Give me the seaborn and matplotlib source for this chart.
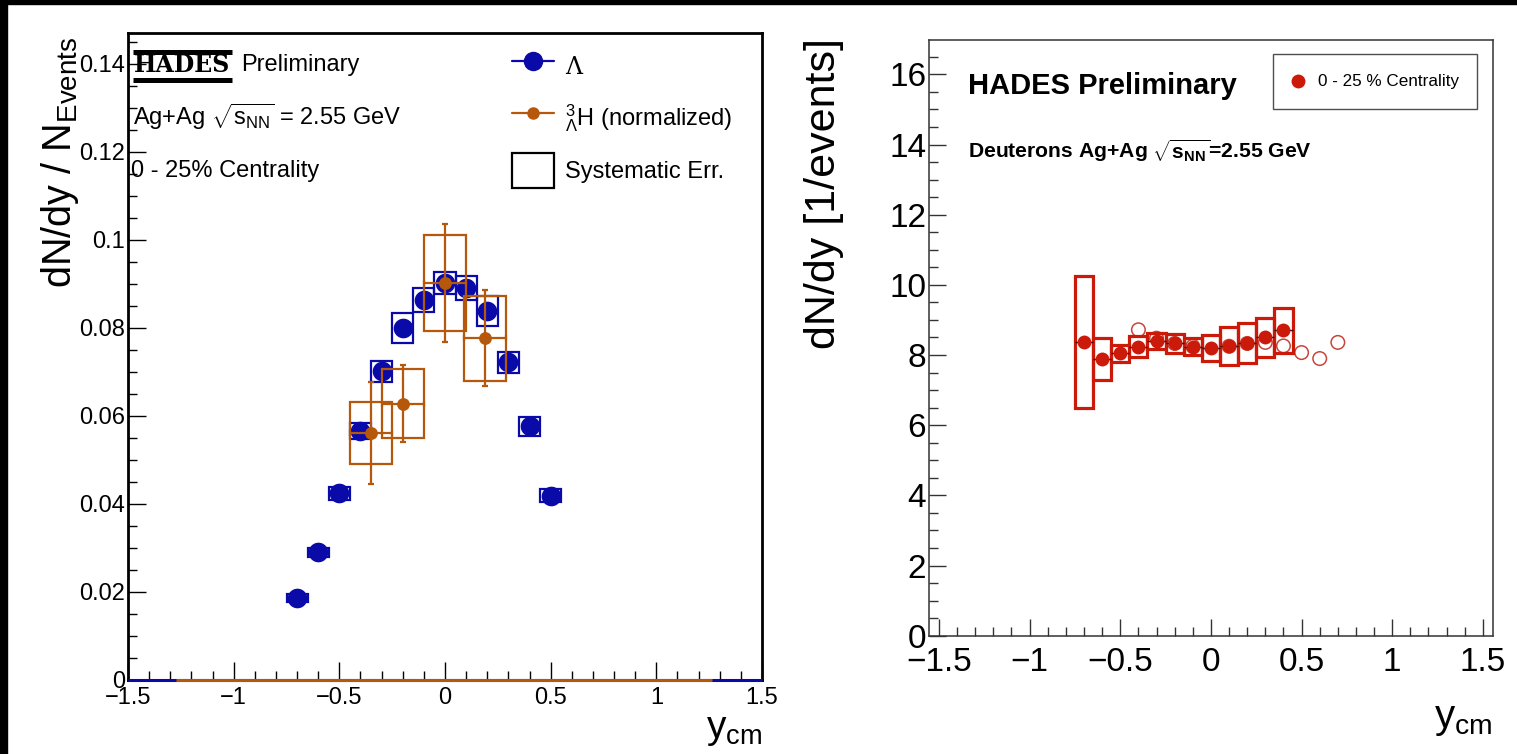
import numpy as np
import pandas as pd
import matplotlib
matplotlib.use("Agg")
import matplotlib.pyplot as plt
from matplotlib.patches import Rectangle, Patch
from matplotlib.lines import Line2D
import seaborn as sns

# ---------------- data: left panel (Lambda and hypertriton) ----------------
lam_y = [-0.7, -0.6, -0.5, -0.4, -0.3, -0.2, -0.1, 0.0, 0.1, 0.2, 0.3, 0.4, 0.5]
lam_dndy = [0.0187, 0.0290, 0.0424, 0.0566, 0.0701, 0.0800, 0.0864, 0.0902,
            0.0891, 0.0839, 0.0722, 0.0576, 0.0419]
lam_sys = [0.0009, 0.0011, 0.0015, 0.0019, 0.0023, 0.0034, 0.0027, 0.0026,
           0.0028, 0.0034, 0.0024, 0.0021, 0.0014]
lam_box_halfwidth = 0.05

h3l_y = [-0.35, -0.2, 0.0, 0.19]
h3l_dndy = [0.0561, 0.0628, 0.0902, 0.0776]
h3l_stat = [0.0115, 0.0087, 0.0134, 0.0109]
h3l_sys = [0.0070, 0.0078, 0.0110, 0.0096]
h3l_halfwidth = 0.1

lam_hist_range = [-1.5, 1.5]
h3l_hist_range = [-1.275, 1.265]

# ---------------- data: right panel (deuterons) ----------------
d_y = [-0.7, -0.6, -0.5, -0.4, -0.3, -0.2, -0.1, 0.0, 0.1, 0.2, 0.3, 0.4]
d_dndy = [8.37, 7.89, 8.05, 8.24, 8.40, 8.33, 8.24, 8.20, 8.26, 8.34, 8.50, 8.70]
d_sys = [1.88, 0.60, 0.24, 0.29, 0.24, 0.28, 0.25, 0.37, 0.53, 0.58, 0.55, 0.64]
d_box_halfwidth = 0.05
d_refl_y = [-0.4, -0.3, -0.2, -0.1, 0.1, 0.2, 0.3, 0.4, 0.5, 0.6, 0.7]
d_refl_dndy = [8.72, 8.48, 8.33, 8.25, 8.25, 8.33, 8.36, 8.26, 8.07, 7.90, 8.36]

xticks = [-1.5, -1.0, -0.5, 0.0, 0.5, 1.0, 1.5]
xticklabels = ["\u22121.5", "\u22121", "\u22120.5", "0", "0.5", "1", "1.5"]
left_yticks = [0, 0.02, 0.04, 0.06, 0.08, 0.10, 0.12, 0.14]
left_yticklabels = ["0", "0.02", "0.04", "0.06", "0.08", "0.1", "0.12", "0.14"]
right_yticks = [0, 2, 4, 6, 8, 10, 12, 14, 16]
right_yticklabels = ["0", "2", "4", "6", "8", "10", "12", "14", "16"]

# ---------------- style ----------------
sns.set_style("white")
plt.rcParams['font.family'] = ['Liberation Sans', 'DejaVu Sans']
plt.rcParams['mathtext.fontset'] = 'custom'
plt.rcParams['mathtext.rm'] = 'Liberation Sans'
plt.rcParams['mathtext.it'] = 'Liberation Sans:italic'
plt.rcParams['mathtext.bf'] = 'Liberation Sans:bold'
plt.rcParams['text.color'] = 'black'
plt.rcParams['axes.labelcolor'] = 'black'
plt.rcParams['xtick.color'] = 'black'
plt.rcParams['ytick.color'] = 'black'

BLUE = "#0a0aa8"
ORANGE = "#b5580b"
RED = "#cc1a0a"
RED_LIGHT = "#c8463c"

fig = plt.figure(figsize=(15.17, 7.54), dpi=100)
axL = fig.add_axes([128 / 1517, 74 / 754, 634 / 1517, 647 / 754])
axR = fig.add_axes([929 / 1517, 118.3 / 754, 563.5 / 1517, 595.7 / 754])

# black frame strips of the original screenshot
fig.patches.append(Rectangle((0, 0), 7 / 1517, 1, transform=fig.transFigure,
                             color="black", zorder=0))
fig.patches.append(Rectangle((0, 1 - 4 / 754), 1, 4 / 754, transform=fig.transFigure,
                             color="black", zorder=0))

# ======================= LEFT PANEL =======================
ax = axL
ax.set_xlim(-1.5, 1.5)
ax.set_ylim(0, 0.147)

# histogram baselines
ax.hlines(0, lam_hist_range[0], lam_hist_range[1], color=BLUE, lw=2.2, zorder=3, clip_on=False)
ax.hlines(0, h3l_hist_range[0], h3l_hist_range[1], color=ORANGE, lw=2.2, zorder=3.1, clip_on=False)

# Lambda systematic boxes
for x, v, s in zip(lam_y, lam_dndy, lam_sys):
    ax.add_patch(Rectangle((x - lam_box_halfwidth, v - s), 2 * lam_box_halfwidth, 2 * s,
                           fill=False, edgecolor=BLUE, lw=1.6, zorder=2))
df_lam = pd.DataFrame({"y": lam_y, "dndy": lam_dndy})
sns.scatterplot(data=df_lam, x="y", y="dndy", ax=ax, color=BLUE, s=200,
                edgecolor=BLUE, linewidth=0, zorder=3, legend=False)

# hypertriton
for x, v, s in zip(h3l_y, h3l_dndy, h3l_sys):
    ax.add_patch(Rectangle((x - h3l_halfwidth, v - s), 2 * h3l_halfwidth, 2 * s,
                           fill=False, edgecolor=ORANGE, lw=1.6, zorder=4))
ax.errorbar(h3l_y, h3l_dndy, yerr=h3l_stat, xerr=h3l_halfwidth, fmt="none",
            ecolor=ORANGE, elinewidth=1.6, capsize=2, capthick=1.6, zorder=4.5)
df_h3l = pd.DataFrame({"y": h3l_y, "dndy": h3l_dndy})
sns.scatterplot(data=df_h3l, x="y", y="dndy", ax=ax, color=ORANGE, s=85,
                linewidth=0, zorder=5, legend=False)

ax.set_xlabel("")
ax.set_ylabel("")
ax.set_xticks(xticks)
ax.set_xticklabels(xticklabels)
ax.set_yticks(left_yticks)
ax.set_yticklabels(left_yticklabels)
ax.xaxis.set_minor_locator(matplotlib.ticker.MultipleLocator(0.1))
ax.yaxis.set_minor_locator(matplotlib.ticker.MultipleLocator(0.005))
ax.tick_params(which="both", direction="in", bottom=True, left=True, top=False, right=False,
               width=1.0, color="black")
ax.tick_params(which="major", length=13, labelsize=17, pad=5)
ax.tick_params(which="minor", length=6.5)
ax.tick_params(axis="y", which="major", pad=2)
for sp in ax.spines.values():
    sp.set_linewidth(2.0)
    sp.set_color("black")
    sp.set_visible(True)

ax.text(-0.107, 0.995, r"dN/dy / N$_{\rm Events}$", transform=ax.transAxes,
        rotation=90, ha="center", va="top", fontsize=28.5)
ax.text(1.0, -0.049, r"y$_{\rm cm}$", transform=ax.transAxes, ha="right", va="top",
        fontsize=28)

# HADES logo
ax.text(0.009, 0.9505, "HADES", transform=ax.transAxes, ha="left", va="center",
        fontsize=17, fontfamily="DejaVu Serif", fontweight="bold", zorder=6)
ax.add_line(Line2D([0.0079, 0.164], [0.970, 0.970], transform=ax.transAxes,
                   color="black", lw=3.6, solid_capstyle="butt", zorder=6))
ax.add_line(Line2D([0.0079, 0.164], [0.927, 0.927], transform=ax.transAxes,
                   color="black", lw=3.6, solid_capstyle="butt", zorder=6))
ax.text(0.178, 0.951, "Preliminary", transform=ax.transAxes, ha="left", va="center",
        fontsize=17)
ax.text(0.008, 0.870, r"Ag+Ag $\sqrt{\mathrm{s}_{\rm NN}}$ = 2.55 GeV", transform=ax.transAxes,
        ha="left", va="center", fontsize=17)
ax.text(0.005, 0.787, "0 - 25% Centrality", transform=ax.transAxes,
        ha="left", va="center", fontsize=17)

handles = [
    Line2D([], [], color=BLUE, lw=1.6, marker="o", markersize=14, markeredgewidth=0),
    Line2D([], [], color=ORANGE, lw=1.6, marker="o", markersize=9, markeredgewidth=0),
    Patch(facecolor="white", edgecolor="black", lw=1.6),
]
labels = ["\u039b", r"${}^{3}_{\Lambda}$H (normalized)", "Systematic Err."]
leg = ax.legend(handles, labels, loc="upper left", bbox_to_anchor=(0.59, 0.99),
                frameon=False, fontsize=17, handlelength=1.8, handleheight=1.9,
                labelspacing=0.72, handletextpad=0.45, borderaxespad=0)
leg.texts[0].set_fontfamily("DejaVu Serif")

# ======================= RIGHT PANEL =======================
ax = axR
ax.set_xlim(-1.555, 1.553)
ax.set_ylim(0, 16.98)

df_refl = pd.DataFrame({"y": d_refl_y, "dndy": d_refl_dndy})
sns.scatterplot(data=df_refl, x="y", y="dndy", ax=ax, facecolor="none",
                edgecolor=RED_LIGHT, linewidth=1.1, s=95, zorder=2, legend=False)
for x, v, s in zip(d_y, d_dndy, d_sys):
    ax.add_patch(Rectangle((x - d_box_halfwidth, v - s), 2 * d_box_halfwidth, 2 * s,
                           fill=False, edgecolor=RED, lw=2.3, zorder=3))
ax.errorbar(d_y, d_dndy, xerr=d_box_halfwidth, fmt="none", ecolor="#301010",
            elinewidth=1.0, zorder=3.5)
df_d = pd.DataFrame({"y": d_y, "dndy": d_dndy})
sns.scatterplot(data=df_d, x="y", y="dndy", ax=ax, color=RED, s=100, linewidth=0,
                zorder=4, label="0 - 25 % Centrality")

ax.set_xlabel("")
ax.set_ylabel("")
ax.set_xticks(xticks)
ax.set_xticklabels(xticklabels)
ax.set_yticks(right_yticks)
ax.set_yticklabels(right_yticklabels)
ax.xaxis.set_minor_locator(matplotlib.ticker.MultipleLocator(0.1))
ax.yaxis.set_minor_locator(matplotlib.ticker.MultipleLocator(0.5))
ax.tick_params(which="both", direction="in", bottom=True, left=True, top=False, right=False,
               width=1.0, color="#333333")
ax.tick_params(which="major", length=12.5, labelsize=24, pad=8)
ax.tick_params(which="minor", length=6.5)
ax.tick_params(axis="y", which="major", pad=2)
for sp in ax.spines.values():
    sp.set_linewidth(1.1)
    sp.set_color("#333333")
    sp.set_visible(True)

ax.text(-0.186, 1.003, "dN/dy [1/events]", transform=ax.transAxes, rotation=90,
        ha="center", va="top", fontsize=31)
ax.text(1.0, -0.108, r"y$_{\rm cm}$", transform=ax.transAxes, ha="right", va="top",
        fontsize=29)
ax.text(0.069, 0.923, "HADES Preliminary", transform=ax.transAxes, ha="left",
        va="center", fontsize=21, fontweight="bold")
ax.text(0.069, 0.815, r"Deuterons Ag+Ag $\mathbf{\sqrt{s_{NN}}}$=2.55 GeV",
        transform=ax.transAxes, ha="left", va="center", fontsize=15.2, fontweight="bold")

legR = ax.legend(loc="upper left", bbox_to_anchor=(0.610, 0.976, 0.363, 0.0),
                 mode="expand", frameon=True, fancybox=False, fontsize=12.3,
                 borderpad=1.15, handlelength=0.6, handletextpad=0.9, borderaxespad=0,
                 markerscale=1.0)
legR.get_frame().set_edgecolor("#222222")
legR.get_frame().set_linewidth(1.0)

fig.savefig("out.png", dpi=100)
